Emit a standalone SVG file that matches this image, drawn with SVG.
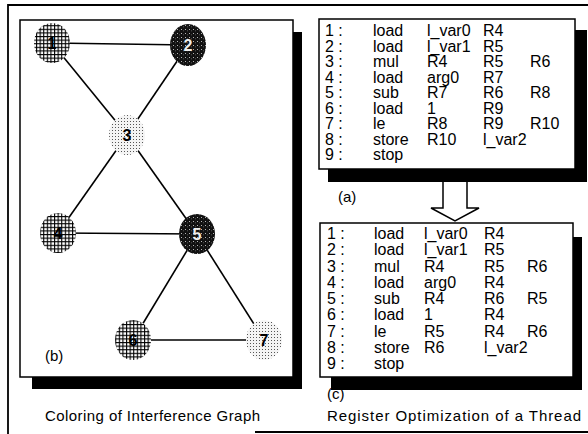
<svg xmlns="http://www.w3.org/2000/svg" width="588" height="434" viewBox="0 0 588 434">
<style>
.frame{fill:none;stroke:#000;stroke-width:1.8}
.panel{fill:#fff;stroke:#000;stroke-width:1.5}
.shadow{fill:#000}
.edge{stroke:#000;stroke-width:1.6;fill:none}
.code{font-family:"Liberation Sans",Arial,sans-serif;font-size:16px;fill:#000}
.cap{font-family:"Liberation Sans",Arial,sans-serif;font-size:15px;fill:#000}
.lbl{font-family:"Liberation Sans",Arial,sans-serif;font-size:16px;font-weight:bold;text-anchor:middle}
</style>
<defs>
<pattern id="grid" width="3.6" height="3.6" patternUnits="userSpaceOnUse">
<rect width="3.6" height="3.6" fill="#fff"/>
<rect x="0" y="0" width="3.6" height="1.1" fill="#000"/>
<rect x="0" y="0" width="1.1" height="3.6" fill="#000"/>
</pattern>
<pattern id="dark" width="4" height="4" patternUnits="userSpaceOnUse">
<rect width="4" height="4" fill="#111"/>
<rect x="1" y="1" width="0.9" height="0.9" fill="#ddd"/>
<rect x="3" y="2.5" width="0.7" height="0.7" fill="#999"/>
</pattern>
<pattern id="light" width="3" height="3" patternUnits="userSpaceOnUse">
<rect width="3" height="3" fill="#f4f4f4"/>
<rect x="1" y="1" width="1" height="1" fill="#555"/>
</pattern>
</defs>
<rect width="588" height="434" fill="#fff"/>
<g id="frame">
<path class="frame" d="M8,434 V5 H588"/>
<path class="frame" d="M255,432 H588"/>
</g>
<g id="panel-b">
<rect class="shadow" x="293" y="32" width="9" height="357"/>
<rect class="shadow" x="32" y="377" width="270" height="12"/>
<rect class="panel" x="20" y="20" width="273" height="357"/>
<text class="cap" x="45" y="361">(b)</text>
</g>
<g id="edges">
<line class="edge" x1="52" y1="43" x2="188" y2="45"/>
<line class="edge" x1="52" y1="43" x2="127" y2="135"/>
<line class="edge" x1="188" y1="45" x2="127" y2="135"/>
<line class="edge" x1="127" y1="135" x2="58" y2="233"/>
<line class="edge" x1="127" y1="135" x2="197" y2="234"/>
<line class="edge" x1="58" y1="233" x2="197" y2="234"/>
<line class="edge" x1="197" y1="234" x2="133" y2="340"/>
<line class="edge" x1="197" y1="234" x2="264" y2="340"/>
<line class="edge" x1="133" y1="340" x2="264" y2="340"/>
</g>
<g id="n1"><ellipse cx="52" cy="43" rx="18" ry="20" fill="url(#grid)"/><text class="lbl" x="52" y="49" fill="#000">1</text></g>
<g id="n2"><ellipse cx="188" cy="45" rx="18" ry="21" fill="url(#dark)"/><text class="lbl" x="188" y="51" fill="#eee">2</text></g>
<g id="n3"><ellipse cx="127" cy="135" rx="18" ry="20" fill="url(#light)"/><text class="lbl" x="127" y="141" fill="#000">3</text></g>
<g id="n4"><ellipse cx="58" cy="233" rx="18" ry="20" fill="url(#grid)"/><text class="lbl" x="58" y="239" fill="#000">4</text></g>
<g id="n5"><ellipse cx="197" cy="234" rx="18" ry="20" fill="url(#dark)"/><text class="lbl" x="197" y="240" fill="#eee">5</text></g>
<g id="n6"><ellipse cx="133" cy="340" rx="18" ry="20" fill="url(#grid)"/><text class="lbl" x="133" y="346" fill="#000">6</text></g>
<g id="n7"><ellipse cx="264" cy="340" rx="18" ry="20" fill="url(#light)"/><text class="lbl" x="264" y="346" fill="#000">7</text></g>
<text class="cap" x="45" y="421" textLength="215" lengthAdjust="spacing">Coloring of Interference Graph</text>
<g id="panel-a">
<rect class="shadow" x="575" y="30" width="12" height="152"/>
<rect class="shadow" x="328" y="169" width="259" height="13"/>
<rect class="panel" x="319" y="19" width="256" height="150"/>
<g class="code">
<text x="325" y="36">1 :</text><text x="373" y="36">load</text><text x="427" y="36">l_var0</text><text x="483" y="36">R4</text>
<text x="325" y="51.5">2 :</text><text x="373" y="51.5">load</text><text x="427" y="51.5">l_var1</text><text x="483" y="51.5">R5</text>
<text x="325" y="67">3 :</text><text x="373" y="67">mul</text><text x="427" y="67">R4</text><text x="483" y="67">R5</text><text x="530" y="67">R6</text>
<text x="325" y="82.5">4 :</text><text x="373" y="82.5">load</text><text x="427" y="82.5">arg0</text><text x="483" y="82.5">R7</text>
<text x="325" y="98">5 :</text><text x="373" y="98">sub</text><text x="427" y="98">R7</text><text x="483" y="98">R6</text><text x="530" y="98">R8</text>
<text x="325" y="113.5">6 :</text><text x="373" y="113.5">load</text><text x="427" y="113.5">1</text><text x="483" y="113.5">R9</text>
<text x="325" y="129">7 :</text><text x="373" y="129">le</text><text x="427" y="129">R8</text><text x="483" y="129">R9</text><text x="530" y="129">R10</text>
<text x="325" y="144.5">8 :</text><text x="373" y="144.5">store</text><text x="427" y="144.5">R10</text><text x="483" y="144.5">l_var2</text>
<text x="325" y="160">9 :</text><text x="373" y="160">stop</text>
</g>
<text class="cap" x="338" y="202">(a)</text>
</g>
<g id="arrow">
<path d="M443,182 V208 H431 L455,221 L479,208 H467 V182" fill="#fff" stroke="#000" stroke-width="1.5" stroke-linejoin="miter"/>
</g>
<g id="panel-c">
<rect class="shadow" x="573" y="237" width="9" height="153"/>
<rect class="shadow" x="331" y="377" width="251" height="13"/>
<rect class="panel" x="320" y="223" width="253" height="154"/>
<g class="code">
<text x="327" y="239">1 :</text><text x="374" y="239">load</text><text x="424" y="239">l_var0</text><text x="484" y="239">R4</text>
<text x="327" y="255.25">2 :</text><text x="374" y="255.25">load</text><text x="424" y="255.25">l_var1</text><text x="484" y="255.25">R5</text>
<text x="327" y="271.5">3 :</text><text x="374" y="271.5">mul</text><text x="424" y="271.5">R4</text><text x="484" y="271.5">R5</text><text x="527" y="271.5">R6</text>
<text x="327" y="287.75">4 :</text><text x="374" y="287.75">load</text><text x="424" y="287.75">arg0</text><text x="484" y="287.75">R4</text>
<text x="327" y="304">5 :</text><text x="374" y="304">sub</text><text x="424" y="304">R4</text><text x="484" y="304">R6</text><text x="527" y="304">R5</text>
<text x="327" y="320.25">6 :</text><text x="374" y="320.25">load</text><text x="424" y="320.25">1</text><text x="484" y="320.25">R4</text>
<text x="327" y="336.5">7 :</text><text x="374" y="336.5">le</text><text x="424" y="336.5">R5</text><text x="484" y="336.5">R4</text><text x="527" y="336.5">R6</text>
<text x="327" y="352.75">8 :</text><text x="374" y="352.75">store</text><text x="424" y="352.75">R6</text><text x="484" y="352.75">l_var2</text>
<text x="327" y="369">9 :</text><text x="374" y="369">stop</text>
</g>
<text class="cap" x="327" y="399">(c)</text>
</g>
<text class="cap" x="327" y="421" textLength="254" lengthAdjust="spacing">Register Optimization of a Thread</text>
</svg>
